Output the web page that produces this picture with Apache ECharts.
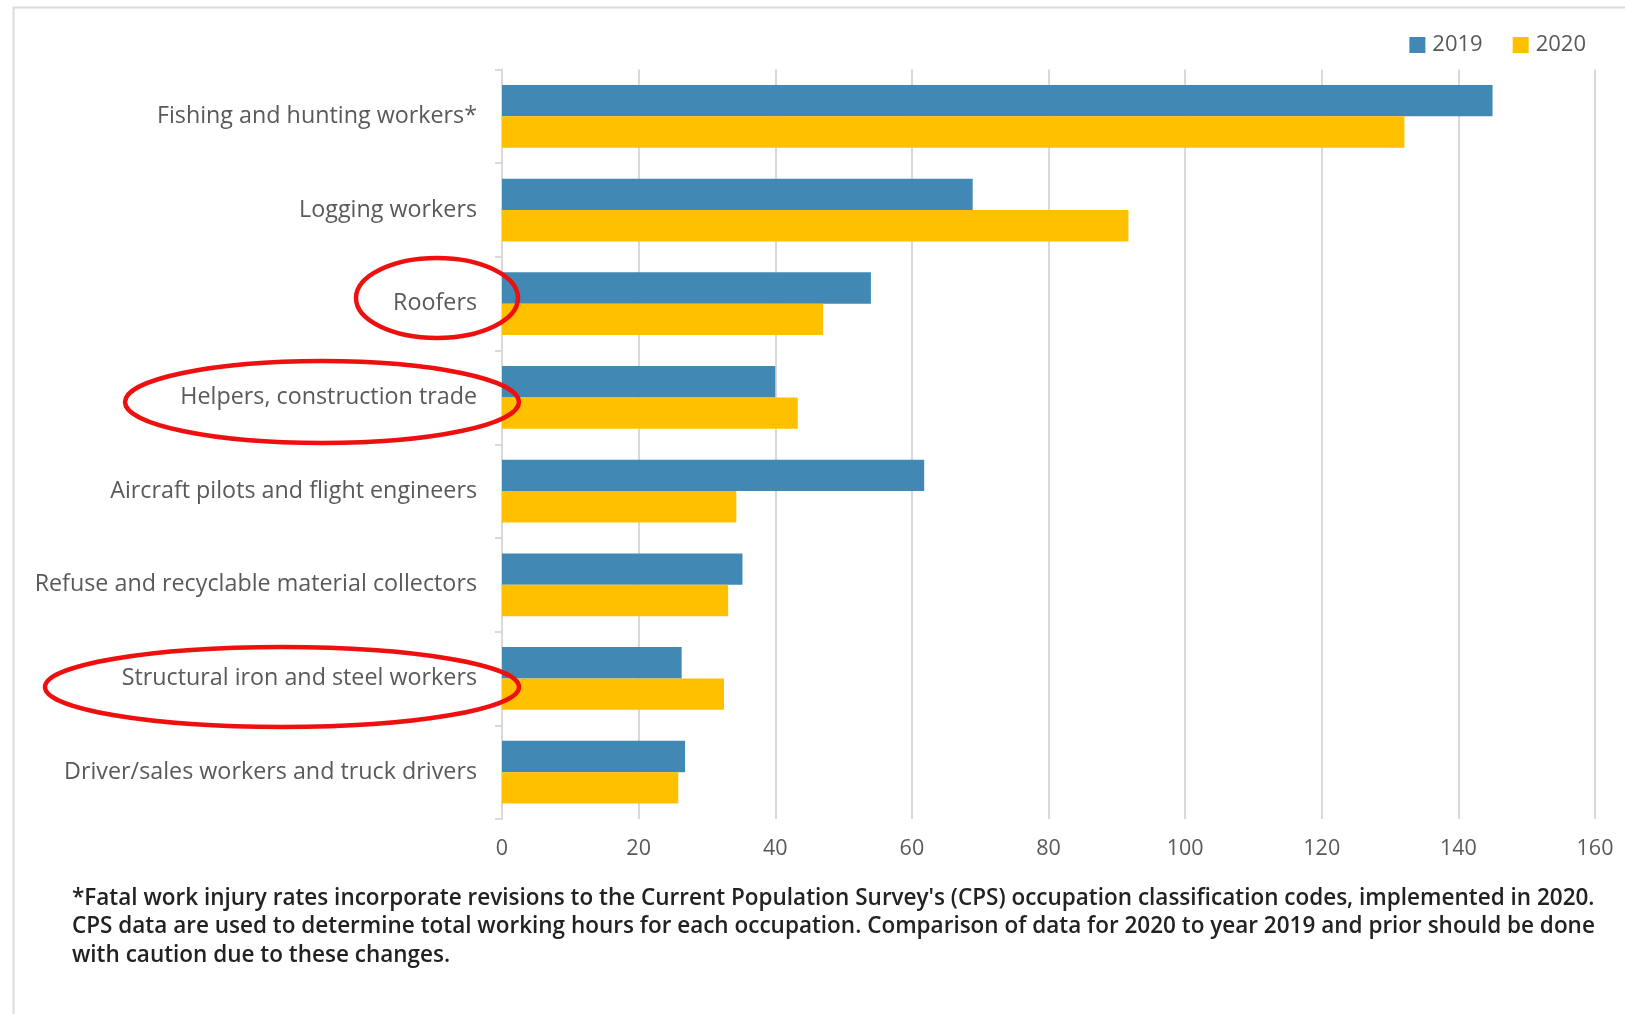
<!DOCTYPE html>
<html>
<head>
<meta charset="utf-8">
<title>Fatal work injury rates by occupation, 2019 and 2020</title>
<script src="https://cdn.jsdelivr.net/npm/echarts@6/dist/echarts.min.js"></script>
<style>
  html, body { margin: 0; padding: 0; background: #ffffff; }
  #chart { width: 1625px; height: 1014px; }
</style>
</head>
<body>
<div id="chart"></div>
<script>
// Occupations, top to bottom
const occupations = [
  'Fishing and hunting workers*',
  'Logging workers',
  'Roofers',
  'Helpers, construction trade',
  'Aircraft pilots and flight engineers',
  'Refuse and recyclable material collectors',
  'Structural iron and steel workers',
  'Driver/sales workers and truck drivers'
];

// Fatal work injury rate per 100,000 full-time equivalent workers
const rates2019 = [145.0, 68.9, 54.0, 40.0, 61.8, 35.2, 26.3, 26.8];
const rates2020 = [132.1, 91.7, 47.0, 43.3, 34.3, 33.1, 32.5, 25.8];

const seriesNames = ['2019', '2020'];

const footnoteLines = [
  "*Fatal work injury rates incorporate revisions to the Current Population Survey's (CPS) occupation classification codes, implemented in 2020.",
  'CPS data are used to determine total working hours for each occupation. Comparison of data for 2020 to year 2019 and prior should be done',
  'with caution due to these changes.'
];

// Occupations singled out with a red outline
const highlighted = [
  { cx: 437, cy: 298, rx: 81, ry: 40 },
  { cx: 322, cy: 402, rx: 197, ry: 41 },
  { cx: 282, cy: 687, rx: 237, ry: 40 }
];

const BLUE = '#4189b4';
const GOLD = '#ffc000';
const TEXT = '#595959';
const GRID = '#d9d9d9';
const FONT = '"Open Sans", Lato, sans-serif';

const chart = echarts.init(document.getElementById('chart'), null, { renderer: 'canvas' });

const graphics = [
  {
    type: 'polyline',
    silent: true,
    shape: { points: [[1640, 7.5], [13.5, 7.5], [13.5, 1030]] },
    style: { stroke: '#dcdcdc', lineWidth: 2, fill: null },
    z: 0
  }
];

footnoteLines.forEach((line, i) => {
  graphics.push({
    type: 'text',
    x: 72,
    y: 898.5 + i * 28.5,
    style: {
      text: line,
      font: '600 22.5px ' + FONT,
      fill: '#222222',
      verticalAlign: 'middle',
      textVerticalAlign: 'middle'
    },
    z: 10
  });
});

highlighted.forEach(e => {
  graphics.push({
    type: 'ellipse',
    silent: true,
    shape: { cx: e.cx, cy: e.cy, rx: e.rx, ry: e.ry },
    style: { fill: null, stroke: '#ee0f0f', lineWidth: 4.5 },
    z: 100
  });
});

const option = {
  animation: false,
  backgroundColor: '#ffffff',
  textStyle: { fontFamily: FONT },
  color: [BLUE, GOLD],
  legend: {
    data: seriesNames,
    right: 34,
    top: 29,
    itemWidth: 16,
    itemHeight: 16,
    itemGap: 30,
    icon: 'rect',
    textStyle: { color: TEXT, fontSize: 22, fontFamily: FONT, padding: [0, 0, 0, 2] }
  },
  grid: {
    left: 502,
    right: 30,
    top: 69.5,
    bottom: 195,
    containLabel: false
  },
  xAxis: {
    type: 'value',
    min: 0,
    max: 160,
    interval: 20,
    axisLine: { show: false },
    axisTick: { show: false },
    axisLabel: { color: TEXT, fontSize: 21.5, margin: 19, fontFamily: FONT },
    splitLine: { show: true, lineStyle: { color: GRID, width: 2 } }
  },
  yAxis: {
    type: 'category',
    data: occupations,
    inverse: true,
    axisLine: { show: true, lineStyle: { color: GRID, width: 2 } },
    axisTick: { show: true, length: 7, lineStyle: { color: GRID, width: 2 } },
    axisLabel: { color: TEXT, fontSize: 23.3, margin: 25, fontFamily: FONT }
  },
  series: [
    {
      name: seriesNames[0],
      type: 'bar',
      data: rates2019,
      barGap: '0%',
      barCategoryGap: '33%',
      itemStyle: { color: BLUE }
    },
    {
      name: seriesNames[1],
      type: 'bar',
      data: rates2020,
      barGap: '0%',
      barCategoryGap: '33%',
      itemStyle: { color: GOLD }
    }
  ],
  graphic: graphics
};

chart.setOption(option);
</script>
</body>
</html>
